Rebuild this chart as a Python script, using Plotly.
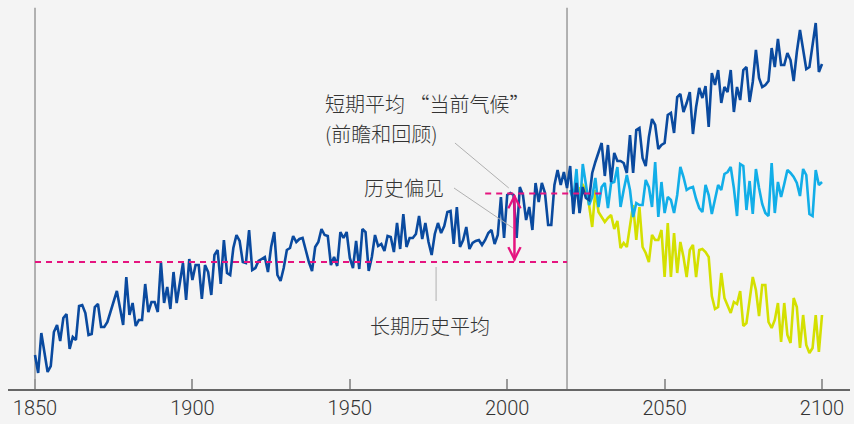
import plotly.graph_objects as go

# ---------------- data (index values, arbitrary units) ----------------
hist_years = list(range(1850, 2101))
hist_values = [
    34, 16, 56, 37, 17, 23, 57, 64, 48, 71,        # 1850-1859
    75, 40, 52, 49, 83, 84, 76, 54, 55, 82,        # 1860-1869
    85, 62, 62, 67, 77, 89, 98, 81, 64, 112,       # 1870-1879
    74, 86, 63, 69, 69, 105, 77, 87, 87, 77,       # 1880-1889
    127, 86, 102, 80, 117, 86, 104, 126, 89, 130,  # 1890-1899
    109, 124, 124, 90, 124, 117, 94, 134, 139, 105,  # 1900-1909
    149, 116, 114, 141, 154, 148, 127, 126, 159, 119,  # 1910-1919
    121, 128, 130, 132, 117, 142, 157, 114, 108, 121,  # 1920-1929
    139, 141, 153, 147, 150, 151, 139, 127, 118, 142,  # 1930-1939
    147, 160, 154, 153, 124, 132, 123, 157, 151, 157,  # 1940-1949
    131, 121, 148, 120, 160, 157, 118, 132, 154, 143,  # 1950-1959
    145, 138, 153, 152, 137, 166, 140, 175, 142, 151,  # 1960-1969
    151, 155, 173, 150, 166, 147, 134, 155, 166, 156,  # 1970-1979
    163, 177, 178, 145, 182, 142, 149, 162, 140, 146,  # 1980-1989
    148, 149, 144, 149, 156, 159, 145, 154, 192, 151,  # 1990-1999
    194, 196, 194, 151, 202, 194, 169, 182, 159, 206,  # 2000-2009
    187, 206, 196, 164, 164, 204, 219, 204, 217, 201,  # 2010-2019
    223, 175, 206, 176, 202, 191, 189, 216, 227, 236,  # 2020-2029
    246, 213, 244, 207, 236, 228, 228, 226, 216, 254,  # 2030-2039
    216, 259, 261, 231, 223, 252, 270, 264, 240, 244,  # 2040-2049
    246, 274, 276, 256, 292, 295, 277, 286, 297, 255,  # 2050-2059
    282, 301, 291, 303, 262, 316, 304, 319, 286, 302,  # 2060-2069
    297, 319, 277, 302, 289, 319, 322, 287, 307, 339,  # 2070-2079
    311, 302, 304, 308, 341, 322, 350, 324, 324, 336,  # 2080-2089
    329, 308, 337, 359, 337, 320, 322, 342, 366, 317,  # 2090-2099
    325,                                            # 2100
]

proj_years = list(range(2020, 2101))
stable_values = [
    199, 189, 220, 176, 225, 202, 184, 192, 211, 182,  # 2020-2029
    202, 206, 181, 206, 207, 222, 182, 199, 214, 199,  # 2030-2039
    172, 186, 184, 184, 209, 202, 182, 227, 172, 207,  # 2040-2049
    176, 192, 189, 176, 194, 222, 212, 199, 201, 202,  # 2050-2059
    190, 181, 177, 204, 194, 175, 189, 204, 199, 215,  # 2060-2069
    217, 222, 201, 173, 225, 223, 179, 208, 175, 220,  # 2070-2079
    201, 185, 176, 173, 226, 176, 207, 192, 205, 219,  # 2080-2089
    216, 212, 206, 193, 220, 214, 175, 173, 219, 204,  # 2090-2099
    207,                                            # 2100
]
cooling_values = [
    199, 194, 204, 199, 204, 199, 184, 162, 199, 177,  # 2020-2029
    172, 167, 171, 174, 160, 168, 141, 146, 142, 164,  # 2030-2039
    184, 149, 182, 142, 136, 127, 154, 149, 149, 159,  # 2040-2049
    112, 166, 112, 156, 116, 147, 132, 112, 139, 144,  # 2050-2059
    112, 139, 140, 137, 132, 93, 80, 82, 116, 91,      # 2060-2069
    84, 76, 87, 85, 98, 63, 66, 88, 112, 99,           # 2070-2079
    73, 104, 104, 67, 61, 69, 86, 47, 86, 54,          # 2080-2089
    46, 91, 82, 41, 74, 44, 36, 41, 74, 37,            # 2090-2099
    74,                                             # 2100
]

long_term_avg = 127
short_term_avg = 195.5
tick_vals = [1850, 1900, 1950, 2000, 2050, 2100]
tick_text = ["1850", "1900", "1950", "2000", "2050", "2100"]
hist_start, now_year = 1850, 2019
short_start, short_end = 1993, 2030
bias_year = 2002.3

label_short_1 = "短期平均 “当前气候”"
label_short_2 = "(前瞻和回顾)"
label_bias = "历史偏见"
label_long = "长期历史平均"

# ---------------- styles ----------------
DARK = "#0a4a9f"
LIGHT = "#12aee8"
YELLOW = "#d4e000"
MAGENTA = "#e5147f"
GRAY = "#9a9a9a"
LEADER = "#b0b0b0"
TEXT = "#333333"
BG = "#f4f4f4"
CJK = "Noto Sans CJK SC"

fig = go.Figure()
fig.add_trace(go.Scatter(x=proj_years, y=cooling_values, mode="lines",
                         line=dict(color=YELLOW, width=2.6), hoverinfo="skip"))
fig.add_trace(go.Scatter(x=proj_years, y=stable_values, mode="lines",
                         line=dict(color=LIGHT, width=2.6), hoverinfo="skip"))
fig.add_trace(go.Scatter(x=hist_years, y=hist_values, mode="lines",
                         line=dict(color=DARK, width=2.6), hoverinfo="skip"))

# vertical reference lines
for xv in (hist_start, now_year):
    fig.add_shape(type="line", xref="x", yref="paper", x0=xv, x1=xv, y0=0, y1=0.98,
                  line=dict(color=GRAY, width=1.5), layer="below")

# average lines
fig.add_shape(type="line", xref="x", yref="y", x0=hist_start, x1=now_year,
              y0=long_term_avg, y1=long_term_avg,
              line=dict(color=MAGENTA, width=2, dash="6px,5px"))
fig.add_shape(type="line", xref="x", yref="y", x0=short_start, x1=short_end,
              y0=short_term_avg, y1=short_term_avg,
              line=dict(color=MAGENTA, width=2, dash="6px,5px"))

# leader lines
fig.add_shape(type="line", xref="x", yref="y", x0=1983.4, y0=246, x1=2000.5, y1=201,
              line=dict(color=LEADER, width=1))
fig.add_shape(type="line", xref="x", yref="y", x0=1983.1, y0=201, x1=2001.8, y1=161,
              line=dict(color=LEADER, width=1))
fig.add_shape(type="line", xref="x", yref="y", x0=1977.4, y0=122, x1=1977.4, y1=88,
              line=dict(color=LEADER, width=1))

# double arrow for the bias
for tip, tail in ((short_term_avg, long_term_avg), (long_term_avg, short_term_avg)):
    fig.add_annotation(x=bias_year, y=tip, ax=bias_year, ay=tail, xref="x", yref="y",
                       axref="x", ayref="y", showarrow=True, arrowhead=5,
                       arrowsize=1.2, arrowwidth=2, arrowcolor=MAGENTA,
                       standoff=0, text="")

def label(txt, x, y):
    fig.add_annotation(x=x, y=y, xref="x", yref="y", text=txt, showarrow=False,
                       xanchor="left", yanchor="middle",
                       font=dict(family=CJK, size=20, color=TEXT, weight=300))

label(label_short_1, 1941.5, 286)
label(label_short_2, 1941.5, 256)
label(label_bias, 1953.9, 202)
label(label_long, 1955.8, 64)

fig.update_layout(
    width=854, height=424,
    margin=dict(l=8, r=4, t=0, b=35),
    paper_bgcolor=BG, plot_bgcolor=BG,
    showlegend=False,
    xaxis=dict(range=[1841.42, 2108.89], tickvals=tick_vals, ticktext=tick_text,
               ticks="inside", ticklen=10, tickwidth=1.5, tickcolor=GRAY,
               showline=True, linecolor="#666666", linewidth=1.5,
               showgrid=False, zeroline=False, fixedrange=True,
               tickfont=dict(family="Roboto", size=20, color=TEXT, weight=300)),
    yaxis=dict(range=[0, 389], visible=False, showgrid=False, zeroline=False,
               fixedrange=True),
)

fig.write_html("out.html", config={"displayModeBar": False},
               post_script="document.body.style.margin='0';"
                           "document.body.style.background='#f4f4f4';")
